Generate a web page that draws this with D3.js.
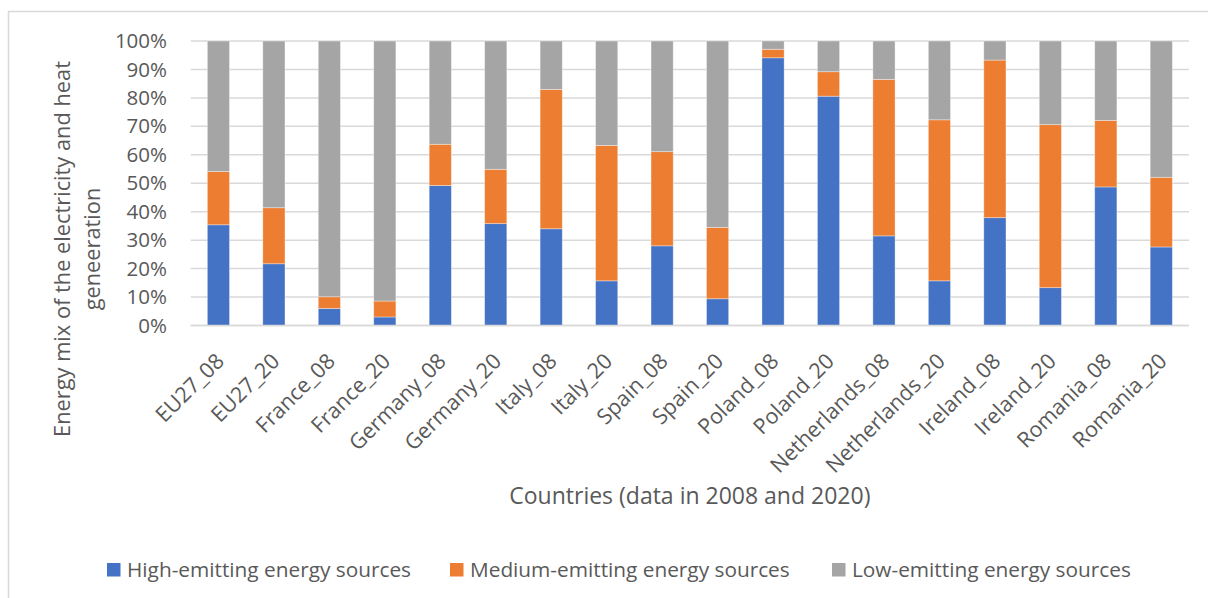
<!DOCTYPE html>
<html>
<head>
<meta charset="utf-8">
<script src="https://cdn.jsdelivr.net/npm/d3@7"></script>
<style>
  html, body { margin: 0; padding: 0; background: #fff; }
  svg { display: block; font-family: "Open Sans", sans-serif; }
</style>
</head>
<body>
<svg id="chart" width="1208" height="598"></svg>
<script>
// Energy mix (share of electricity and heat generation), 2008 vs 2020
const categories = [
  "EU27_08", "EU27_20", "France_08", "France_20", "Germany_08", "Germany_20",
  "Italy_08", "Italy_20", "Spain_08", "Spain_20", "Poland_08", "Poland_20",
  "Netherlands_08", "Netherlands_20", "Ireland_08", "Ireland_20",
  "Romania_08", "Romania_20"
];
const highEmitting   = [35.4, 21.7, 6.0, 3.0, 49.2, 35.8, 34.0, 15.7, 28.0, 9.4, 94.1, 80.6, 31.5, 15.7, 37.9, 13.3, 48.7, 27.6];
const mediumEmitting = [18.7, 19.7, 4.1, 5.6, 14.5, 19.1, 49.0, 47.6, 33.1, 25.1, 3.0, 8.6, 55.0, 56.6, 55.4, 57.3, 23.4, 24.5];
const lowEmitting    = [45.9, 58.6, 89.9, 91.4, 36.3, 45.1, 17.0, 36.7, 38.9, 65.5, 2.9, 10.8, 13.5, 27.7, 6.7, 29.4, 27.9, 47.9];

const seriesNames = ["High-emitting energy sources", "Medium-emitting energy sources", "Low-emitting energy sources"];
const seriesColors = ["#4472C4", "#ED7D31", "#A5A5A5"];
const yTicks = [0, 10, 20, 30, 40, 50, 60, 70, 80, 90, 100];
const yTitleLines = ["Energy mix of the electricity and heat", "geneeration"];
const xTitle = "Countries (data in 2008 and 2020)";

const rows = categories.map((c, i) => ({
  cat: c, high: highEmitting[i], medium: mediumEmitting[i], low: lowEmitting[i]
}));
const keys = ["high", "medium", "low"];

const svg = d3.select("#chart");
const textColor = "#595959";

// Outer chart frame
svg.append("rect")
  .attr("x", 8.5).attr("y", 11.5)
  .attr("width", 1210).attr("height", 600)
  .attr("fill", "none").attr("stroke", "#D9D9D9").attr("stroke-width", 1.5);

const plot = { left: 190.7, right: 1189, top: 41, bottom: 325.5 };

const x = d3.scaleBand()
  .domain(categories)
  .range([plot.left, plot.right])
  .paddingInner(0.6)
  .paddingOuter(0.3);

const y = d3.scaleLinear().domain([0, 100]).range([plot.bottom, plot.top]);

// Gridlines
svg.append("g")
  .selectAll("line")
  .data(yTicks)
  .join("line")
  .attr("x1", plot.left).attr("x2", plot.right)
  .attr("y1", d => y(d)).attr("y2", d => y(d))
  .attr("stroke", "#D9D9D9").attr("stroke-width", 1.5);

// Y axis labels
const yAxis = d3.axisLeft(y).tickValues(yTicks).tickFormat(d => d + "%").tickSize(0).tickPadding(0);
const yg = svg.append("g").attr("transform", `translate(167,0)`).call(yAxis);
yg.select(".domain").remove();
yg.selectAll("text")
  .attr("fill", textColor)
  .style("font-family", "'Open Sans', sans-serif")
  .style("font-size", "20.5px");

// Stacked bars
const stacked = d3.stack().keys(keys)(rows);
svg.append("g")
  .selectAll("g")
  .data(stacked)
  .join("g")
  .attr("fill", (d, i) => seriesColors[i])
  .selectAll("rect")
  .data(d => d)
  .join("rect")
  .attr("x", d => x(d.data.cat))
  .attr("width", x.bandwidth())
  .attr("y", d => y(d[1]))
  .attr("height", d => y(d[0]) - y(d[1]))
  .attr("stroke", "#fff")
  .attr("stroke-opacity", 0.45)
  .attr("stroke-width", 0.8);

// Baseline
svg.append("line")
  .attr("x1", plot.left).attr("x2", plot.right)
  .attr("y1", y(0)).attr("y2", y(0))
  .attr("stroke", "#D9D9D9").attr("stroke-width", 1.5);

// X axis category labels, rotated
const xAxis = d3.axisBottom(x).tickSize(0).tickPadding(0);
const xg = svg.append("g").attr("transform", `translate(0,${y(0)})`).call(xAxis);
xg.select(".domain").remove();
xg.selectAll(".tick text")
  .attr("fill", textColor)
  .attr("text-anchor", "end")
  .attr("y", 0).attr("dy", 0)
  .attr("transform", "translate(7,37) rotate(-45)")
  .style("font-family", "'Open Sans', sans-serif")
  .style("font-size", "21.5px");

// X axis title
svg.append("text")
  .attr("x", (plot.left + plot.right) / 2)
  .attr("y", 504)
  .attr("text-anchor", "middle")
  .attr("fill", textColor)
  .style("font-size", "23px")
  .text(xTitle);

// Y axis title (two lines, rotated)
const yTitle = svg.append("text")
  .attr("transform", "translate(0,249) rotate(-90)")
  .attr("text-anchor", "middle")
  .attr("fill", textColor)
  .style("font-size", "21.8px");
yTitleLines.forEach((line, i) => {
  yTitle.append("tspan")
    .attr("x", 0)
    .attr("y", 70 + i * 30)
    .text(line);
});

// Legend
const legendX = [107, 450, 832];
const legend = svg.append("g");
seriesNames.forEach((name, i) => {
  const g = legend.append("g").attr("transform", `translate(${legendX[i]},0)`);
  g.append("rect")
    .attr("x", 0).attr("y", 563)
    .attr("width", 13.5).attr("height", 13.5)
    .attr("fill", seriesColors[i]);
  g.append("text")
    .attr("x", 20).attr("y", 576.5)
    .attr("fill", textColor)
    .style("font-size", "20.8px")
    .text(name);
});
</script>
</body>
</html>
